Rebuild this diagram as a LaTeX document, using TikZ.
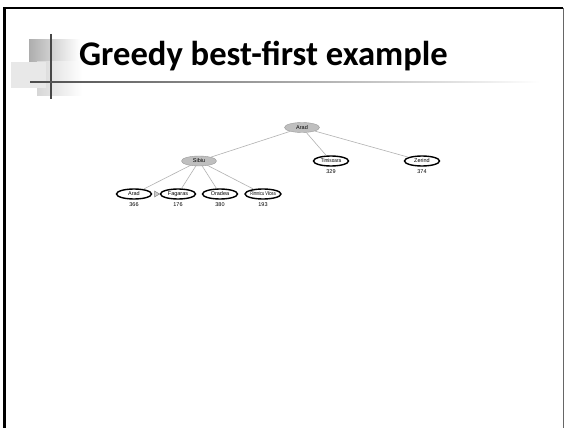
\documentclass[tikz,border=0pt]{standalone}
\usepackage{fontspec}
\usepackage{graphicx}
\setmainfont{Carlito}
\newfontfamily\treefont{Liberation Sans}
\usetikzlibrary{shapes.geometric}
\begin{document}
\begin{tikzpicture}[x=1pt,y=-1pt,
  visited/.style={ellipse, draw=gray!80, line width=0.4pt, fill=black!25,
    minimum width=35pt, minimum height=10pt, inner sep=0pt,
    font=\treefont\fontsize{5.5}{6}\selectfont},
  frontier/.style={ellipse, draw=black, line width=1.4pt, fill=white,
    minimum width=35pt, minimum height=10pt, inner sep=0pt,
    font=\treefont\fontsize{5.5}{6}\selectfont},
  hval/.style={font=\treefont\fontsize{5.5}{6}\selectfont, inner sep=0pt},
  edge/.style={draw=black!30, line width=0.6pt},
  ]
\useasboundingbox (0,0) rectangle (566,428);
\fill[white] (0,0) rectangle (566,428);

% slide frame
\draw[line width=2.6pt, black] (4.5,428) -- (4.5,8) -- (563,8);
\draw[line width=1pt, black!60] (563.5,8) -- (563.5,428);

% title ornament
\shade[left color=black!32, right color=white] (29,40) rectangle (80,62);
\shade[left color=black!16, right color=white] (37,62) rectangle (82,96);
\fill[black!9] (11,62) rectangle (46,88);
\draw[line width=1.3pt, black!72] (51,34) -- (51,99);
\shade[left color=black!70, right color=white] (30,81.2) rectangle (540,82.8);

% title
\node[anchor=base west, inner sep=0pt, font=\bfseries\fontsize{34.6}{35}\selectfont]
  (title) at (79,66) {Greedy best-first example};

% search tree
\node[visited] (arad) at (302,127.5) {Arad};
\node[visited] (sibiu) at (199,161) {Sibiu};
\node[frontier] (timi) at (331,161) {\scalebox{0.85}[1]{Timisoara}};
\node[frontier] (zerind) at (422,161) {Zerind};
\node[frontier] (arad2) at (134,194) {Arad};
\node[frontier] (fag) at (178,194) {Fagaras};
\node[frontier] (orad) at (220,194) {Oradea};
\node[frontier] (rimn) at (263,194) {\scalebox{0.7}[1]{Rimnicu Vilcea}};

\node[hval] (h1) at (331,171.5) {329};
\node[hval] (h2) at (422,171.5) {374};
\node[hval] (h3) at (134,204.5) {366};
\node[hval] (h4) at (178,204.5) {176};
\node[hval] (h5) at (220,204.5) {380};
\node[hval] (h6) at (263,204.5) {193};

\draw[edge] (arad) -- (sibiu);
\draw[edge] (arad) -- (timi);
\draw[edge] (arad) -- (zerind);
\draw[edge] (sibiu) -- (arad2);
\draw[edge] (sibiu) -- (fag);
\draw[edge] (sibiu) -- (orad);
\draw[edge] (sibiu) -- (rimn);

% marker pointing at the chosen node
\coordinate (mk) at (157,194);
\draw[black!50, fill=black!20, line width=0.5pt]
  ([xshift=-2.5pt,yshift=-3pt]mk) -- ([xshift=2.5pt]mk) -- ([xshift=-2.5pt,yshift=3pt]mk) -- cycle;
\end{tikzpicture}
\end{document}
